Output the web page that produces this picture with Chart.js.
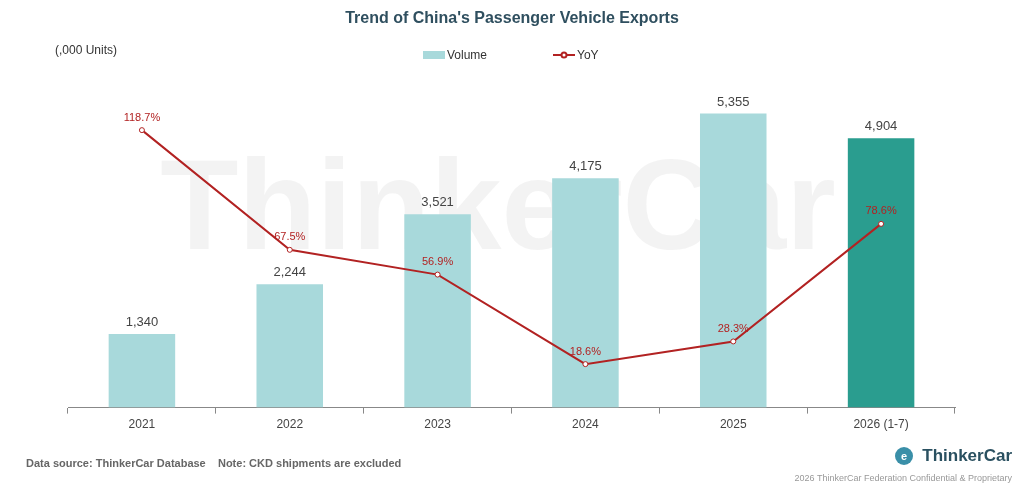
<!DOCTYPE html>
<html><head><meta charset="utf-8">
<script src="https://cdn.jsdelivr.net/npm/chart.js@4"></script>
<style>html,body{margin:0;padding:0;background:#fff}#w{width:1024px;height:495px}</style>
</head><body><div id="w"><canvas id="c"></canvas></div>
<script>
const categories = ["2021","2022","2023","2024","2025","2026 (1-7)"];
const volume = [1340, 2244, 3521, 4175, 5355, 4904];
const yoy = [118.7, 67.5, 56.9, 18.6, 28.3, 78.6];
const volumeLabels = ["1,340","2,244","3,521","4,175","5,355","4,904"];
const barColors = ["#a8d9db","#a8d9db","#a8d9db","#a8d9db","#a8d9db","#2a9d8f"];
const F = "'Liberation Sans', Arial, sans-serif";

const deco = {
  id:'deco',
  beforeDatasetsDraw(ch){
    const c=ch.ctx; c.save();
    c.fillStyle='rgba(215,215,215,0.3)'; c.font='bold 128px '+F; c.textAlign='center'; c.textBaseline='middle';
    c.fillText('ThinkerCar',498,214);
    c.restore();
  },
  afterDraw(ch){
    const c=ch.ctx; c.save();
    c.textAlign='center'; c.textBaseline='middle';
    c.fillStyle='#2f4f5f'; c.font='bold 16px '+F; c.fillText("Trend of China's Passenger Vehicle Exports",512,19);
    c.fillStyle='#333'; c.font='12px '+F; c.textAlign='left'; c.fillText('(,000 Units)',55,51);
    c.fillStyle='#a8d9db'; c.fillRect(423,51,22,8);
    c.fillStyle='#333'; c.fillText('Volume',447,56);
    c.strokeStyle='#b22222'; c.lineWidth=2; c.beginPath(); c.moveTo(553,55); c.lineTo(575,55); c.stroke();
    c.fillStyle='#fff'; c.beginPath(); c.arc(564,55,2.5,0,7); c.fill(); c.stroke();
    c.fillStyle='#333'; c.fillText('YoY',577,56);
    c.fillStyle='#666'; c.font='bold 11px '+F; c.fillText('Data source: ThinkerCar Database    Note: CKD shipments are excluded',26,464);
    c.fillStyle='#999'; c.font='9px '+F; c.textAlign='right'; c.fillText('2026 ThinkerCar Federation Confidential & Proprietary',1012,479);
    c.fillStyle='#2a5060'; c.font='bold 17px '+F; c.fillText('ThinkerCar',1012,456);
    c.fillStyle='#3a8fa8'; c.beginPath(); c.arc(904,456,9,0,7); c.fill();
    c.fillStyle='#fff'; c.font='bold 11px '+F; c.textAlign='center'; c.fillText('e',904,457);
    const bm=ch.getDatasetMeta(0), lm=ch.getDatasetMeta(1);
    c.font='13px '+F; c.fillStyle='#444'; c.textBaseline='bottom';
    bm.data.forEach((b,i)=>c.fillText(volumeLabels[i],b.x,b.y-5));
    c.font='11px '+F; c.fillStyle='#b22222';
    lm.data.forEach((p,i)=>c.fillText(yoy[i].toFixed(1)+'%',p.x,p.y-7));
    c.restore();
  }
};

new Chart(document.getElementById('c'),{
  data:{labels:categories,datasets:[
    {type:'bar',data:volume,backgroundColor:barColors,barPercentage:0.45,categoryPercentage:1,yAxisID:'y',order:2},
    {type:'line',data:yoy,borderColor:'#b22222',borderWidth:2,pointRadius:2.5,pointBackgroundColor:'#fff',pointBorderColor:'#b22222',pointBorderWidth:1,yAxisID:'y1',order:1,tension:0}
  ]},
  options:{responsive:true,maintainAspectRatio:false,animation:false,
    layout:{padding:{left:68,right:69,top:78,bottom:59}},
    plugins:{legend:{display:false},tooltip:{enabled:false}},
    scales:{
      x:{offset:true,grid:{offset:true,drawOnChartArea:false,tickLength:6,color:'#888'},border:{color:'#888'},
         ticks:{color:'#444',font:{size:12,family:F},padding:4}},
      y:{display:false,min:0,max:6000},
      y1:{display:false,min:0,max:141}
    }},
  plugins:[deco]
});
</script></body></html>
